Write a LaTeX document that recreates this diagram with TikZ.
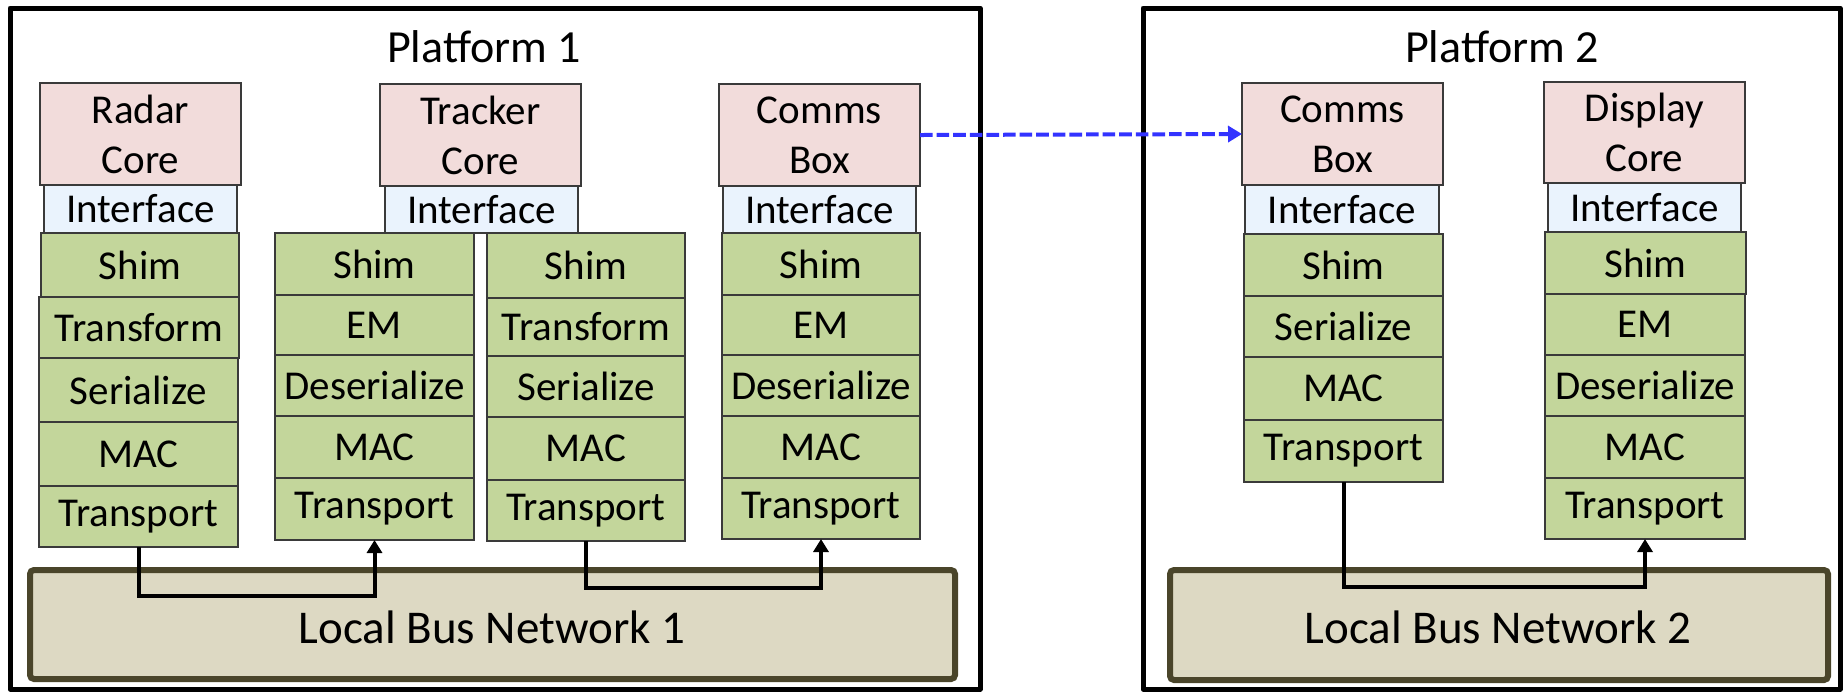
\documentclass[tikz,border=0pt]{standalone}
\usepackage{fontspec}
\setmainfont{Carlito}
\usetikzlibrary{arrows.meta}

\definecolor{corefill}{HTML}{F2DCDB}
\definecolor{iffill}{HTML}{EAF3FD}
\definecolor{layerfill}{HTML}{C3D69B}
\definecolor{busfill}{HTML}{DDD9C3}
\definecolor{busline}{HTML}{4A452A}
\definecolor{boxline}{HTML}{3A3A3A}
\definecolor{linkblue}{HTML}{3333FF}

\tikzset{
  blk/.style={draw=boxline, line width=0.75pt, inner sep=0pt, outer sep=0pt,
    align=center, font=\fontsize{20.5}{25}\selectfont},
  core/.style={blk, fill=corefill},
  iface/.style={blk, fill=iffill},
  layer/.style={blk, fill=layerfill},
  frame/.style={draw=black, line width=2.5pt, line join=round},
  bus/.style={draw=busline, fill=busfill, line width=3pt, rounded corners=2pt},
  title/.style={font=\fontsize{23}{28}\selectfont, inner sep=0pt},
  conn/.style={draw=black, line width=2pt, -{Triangle[width=7.5pt,length=6.5pt]}},
  link/.style={draw=linkblue, line width=2pt, dash pattern=on 6.3pt off 2pt,
    -{Triangle[width=8pt,length=7pt]}}
}

% box given by its corners in pixel units (x1,y1,x2,y2)
\newcommand{\pbox}[6]{%
  \node[#1, minimum width={(#5-#3)*0.5pt}, minimum height={(#6-#4)*0.5pt}]
    (#2) at ({(#3+#5)/2},{(#4+#6)/2}) {};}
\newcommand{\lbox}[7]{%
  \node[#1, minimum width={(#5-#3)*0.5pt}, minimum height={(#6-#4)*0.5pt}]
    (#2) at ({(#3+#5)/2},{(#4+#6)/2}) {#7};}

\begin{document}
\begin{tikzpicture}[x=0.5pt, y=-0.5pt]
\useasboundingbox (0,0) rectangle (1846,693);

% platform frames
\draw[frame] (10,8) rectangle (980,689);
\draw[frame] (1143,8) rectangle (1840,689);
\node[title] (p1) at (484,47) {Platform 1};
\node[title] (p2) at (1502,47) {Platform 2};

% local buses
\node[bus, minimum width=462.5pt, minimum height=54.5pt, inner sep=0pt,
  font=\fontsize{23.5}{28}\selectfont] (bus1) at (492.5,624.5) {};
\node[font=\fontsize{23.5}{28}\selectfont, inner sep=0pt] (bus1t) at (492,627) {Local Bus Network 1};
\node[bus, minimum width=329pt, minimum height=55pt, inner sep=0pt] (bus2) at (1499,625) {};
\node[font=\fontsize{23.5}{28}\selectfont, inner sep=0pt] (bus2t) at (1498,627) {Local Bus Network 2};

% radar stack
\lbox{core}{rcore}{40}{83}{241}{185}{Radar\\Core}
\lbox{iface}{rif}{44}{185}{237}{233}{Interface}
\lbox{layer}{rshim}{41}{233}{239}{297}{Shim}
\lbox{layer}{rtrans}{39}{297}{239}{358}{Transform}
\lbox{layer}{rser}{39}{358}{238}{422}{Serialize}
\lbox{layer}{rmac}{39}{422}{238}{486}{MAC}
\lbox{layer}{rtp}{39}{486}{238}{547}{Transport}

% tracker core with its two stacks
\lbox{core}{tcore}{380}{84}{581}{186}{Tracker\\Core}
\lbox{iface}{tif}{385}{186}{578}{233}{Interface}
\lbox{layer}{bshim}{275}{233}{474}{295}{Shim}
\lbox{layer}{bem}{275}{295}{474}{355}{EM}
\lbox{layer}{bdes}{275}{355}{474}{416}{Deserialize}
\lbox{layer}{bmac}{275}{416}{474}{478}{MAC}
\lbox{layer}{btp}{275}{478}{474}{540}{Transport}
\lbox{layer}{cshim}{487}{233}{685}{298}{Shim}
\lbox{layer}{ctrans}{487}{298}{685}{356}{Transform}
\lbox{layer}{cser}{487}{356}{685}{417}{Serialize}
\lbox{layer}{cmac}{487}{417}{685}{480}{MAC}
\lbox{layer}{ctp}{487}{480}{685}{541}{Transport}

% comms box, platform 1
\lbox{core}{cb1}{719}{84}{920}{186}{Comms\\Box}
\lbox{iface}{cb1if}{723}{186}{916}{233}{Interface}
\lbox{layer}{dshim}{722}{233}{920}{295}{Shim}
\lbox{layer}{dem}{722}{295}{920}{355}{EM}
\lbox{layer}{ddes}{722}{355}{920}{416}{Deserialize}
\lbox{layer}{dmac}{722}{416}{920}{478}{MAC}
\lbox{layer}{dtp}{722}{478}{920}{539}{Transport}

% comms box, platform 2
\lbox{core}{cb2}{1242}{83}{1443}{185}{Comms\\Box}
\lbox{iface}{cb2if}{1245}{185}{1439}{234}{Interface}
\lbox{layer}{eshim}{1244}{234}{1443}{296}{Shim}
\lbox{layer}{eser}{1244}{296}{1443}{357}{Serialize}
\lbox{layer}{emac}{1244}{357}{1443}{420}{MAC}
\lbox{layer}{etp}{1244}{420}{1443}{482}{Transport}

% display stack
\lbox{core}{dcore}{1544}{82}{1745}{183}{Display\\Core}
\lbox{iface}{dif}{1548}{183}{1741}{232}{Interface}
\lbox{layer}{fshim}{1545}{232}{1746}{294}{Shim}
\lbox{layer}{fem}{1545}{294}{1745}{355}{EM}
\lbox{layer}{fdes}{1545}{355}{1745}{416}{Deserialize}
\lbox{layer}{fmac}{1545}{416}{1745}{478}{MAC}
\lbox{layer}{ftp}{1545}{478}{1745}{539}{Transport}

% bus routing levels
\coordinate (lv1) at (0,596);
\coordinate (lv2) at (0,588);
\coordinate (lv3) at (0,587);

\draw[conn] (rtp.south) -- (rtp.south |- lv1) -| (btp.south);
\draw[conn] (ctp.south) -- (ctp.south |- lv2) -| (dtp.south);
\draw[conn] (etp.south) -- (etp.south |- lv3) -| (ftp.south);

% link between platforms
\draw[link] (cb1.east) -- (cb2.west);
\end{tikzpicture}
\end{document}
